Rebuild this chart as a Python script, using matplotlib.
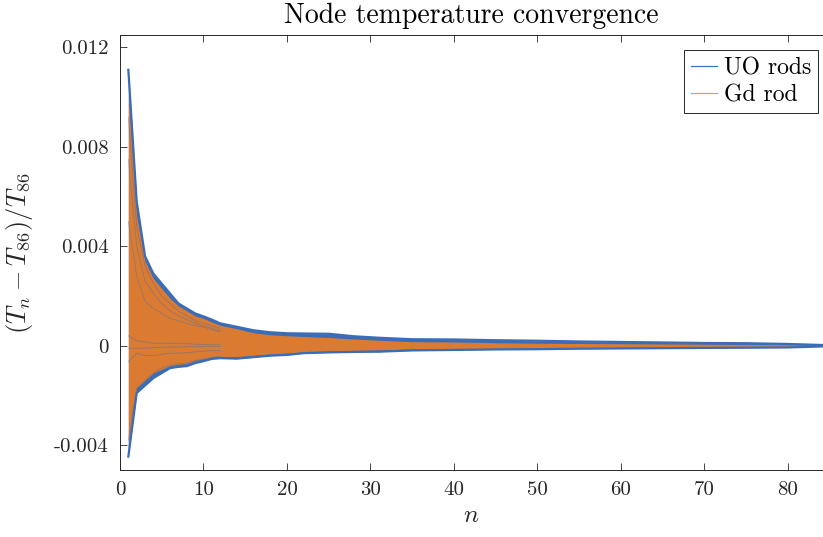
import matplotlib
matplotlib.use("Agg")
import matplotlib.pyplot as plt
import numpy as np

plt.rcParams['font.family'] = 'serif'
plt.rcParams['font.serif'] = ['cmr10', 'DejaVu Serif']
plt.rcParams['mathtext.fontset'] = 'cm'
plt.rcParams['axes.unicode_minus'] = False

# iteration index
n_pts = [1, 2, 3, 4, 5, 6, 7, 8, 9, 10, 11, 12, 14, 16, 18, 20, 22, 25, 28,
         31, 35, 40, 45, 50, 55, 60, 65, 70, 75, 80, 85]

# UO rods envelope
uo_hi = [0.0111, 0.0058, 0.0036, 0.0029, 0.0025, 0.0021, 0.0017, 0.0015,
         0.0013, 0.00118, 0.00105, 0.0009, 0.00076, 0.00062, 0.00054, 0.0005,
         0.00049, 0.00048, 0.00038, 0.00032, 0.00026, 0.00025, 0.00022,
         0.0002, 0.00017, 0.00015, 0.00013, 0.00011, 0.0001, 0.00007, 0.00002]
uo_lo = [-0.00446, -0.0019, -0.0016, -0.0013, -0.0011, -0.0009, -0.00085,
         -0.00082, -0.0007, -0.00062, -0.00053, -0.0005, -0.00052, -0.00046,
         -0.0004, -0.00037, -0.0003, -0.00027, -0.00025, -0.00024, -0.00019,
         -0.00017, -0.00015, -0.00014, -0.00012, -0.00011, -0.0001, -0.00009,
         -0.00008, -0.00007, -0.00002]

# Gd rod envelope
gd_hi = [0.0101, 0.0052, 0.0034, 0.0027, 0.0023, 0.0019, 0.0016, 0.0014,
         0.0012, 0.0011, 0.00095, 0.00082, 0.00068, 0.00052, 0.00044, 0.0004,
         0.00037, 0.00033, 0.00027, 0.00022, 0.00016, 0.00015, 0.00012,
         0.0001, 0.00009, 0.00008, 0.00007, 0.00006, 0.00005, 0.00004, 0.00001]
gd_lo = [-0.0042, -0.0017, -0.0014, -0.0011, -0.00095, -0.0008, -0.00075,
         -0.00072, -0.0006, -0.00053, -0.00046, -0.00043, -0.00044, -0.00038,
         -0.00033, -0.0003, -0.00024, -0.00021, -0.00019, -0.00017, -0.00013,
         -0.00012, -0.00011, -0.0001, -0.00009, -0.00008, -0.00007, -0.00006,
         -0.00005, -0.00004, -0.00001]

# a few visible UO streaks inside the band
streak_n = [1, 2, 3, 4, 5, 6, 7, 8, 9, 10, 11, 12]
streaks = [
    [0.0092, 0.0048, 0.0032, 0.0025, 0.0020, 0.0017, 0.0014, 0.0012, 0.0010, 0.0009, 0.0008, 0.0007],
    [0.0075, 0.0040, 0.0026, 0.0021, 0.0017, 0.0014, 0.0012, 0.00105, 0.0009, 0.0008, 0.0007, 0.0006],
    [0.0050, 0.0028, 0.0018, 0.0015, 0.0013, 0.0011, 0.0010, 0.0009, 0.0008, 0.00075, 0.00065, 0.00055],
    [0.0004, 0.0002, 0.00015, 0.0001, 0.0001, 0.0001, 0.00008, 0.00008, 0.00006, 0.00005, 0.00004, 0.00004],
    [-0.0001, -0.0001, -0.0001, -0.00008, -0.00006, -0.00005, -0.00005, -0.00004, -0.00004, -0.00003, -0.00003, -0.00003],
    [-0.00065, -0.0003, -0.0004, -0.0004, -0.00035, -0.0003, -0.0003, -0.00028, -0.00025, -0.00022, -0.0002, -0.0002],
    [-0.0038, -0.0017, -0.0014, -0.0011, -0.0009, -0.00078, -0.00073, -0.0007, -0.0006, -0.00053, -0.00046, -0.00043],
]

blue = '#3a6db6'
orange = '#db7b32'

fig = plt.figure(figsize=(8.23, 5.37), dpi=100)
ax = fig.add_axes([0.1458, 0.1248, 0.8542, 0.810])

ax.fill_between(n_pts, uo_lo, uo_hi, color=blue, lw=0)
ax.plot(n_pts, uo_hi, color=blue, lw=1.6)
ax.plot(n_pts, uo_lo, color=blue, lw=1.6)
ax.fill_between(n_pts, gd_lo, gd_hi, color=orange, lw=0)
for s in streaks:
    ax.plot(streak_n, s, color=blue, lw=0.6, alpha=0.45)

# legend proxies
ax.plot([], [], color='#3f74c4', lw=0.9, label='UO rods')
ax.plot([], [], color='#ec9a58', lw=0.9, label='Gd rod')

ax.set_xlim(0, 84.2)
ax.set_ylim(-0.005, 0.0125)
ax.set_xticks(range(0, 81, 10))
ax.set_xticklabels([str(v) for v in range(0, 81, 10)])
yt = [-0.004, 0, 0.004, 0.008, 0.012]
ax.set_yticks(yt)
ax.set_yticklabels(['-0.004', '0', '0.004', '0.008', '0.012'])
ax.tick_params(direction='in', length=5, width=0.6, top=True, right=False,
               labelsize=15, colors='#262626', pad=8)
for sp in ax.spines.values():
    sp.set_linewidth(0.7)
    sp.set_color('#262626')

ax.set_xlabel(r'$n$', fontsize=18, color='#262626', labelpad=4)
ax.set_ylabel(r'$(T_n - T_{86})/T_{86}$', fontsize=19, color='#262626', labelpad=14)
ax.set_title('Node temperature convergence', fontsize=20, pad=9)

leg = ax.legend(loc='upper right', bbox_to_anchor=(818 / 823, 1 - 50 / 537),
                bbox_transform=fig.transFigure, fontsize=17, handlelength=1.1,
                handletextpad=0.3, borderaxespad=0, fancybox=False,
                framealpha=1, edgecolor='#262626', borderpad=0.3, labelspacing=0.2)
leg.get_frame().set_linewidth(0.7)

fig.savefig('out.png', dpi=100)
